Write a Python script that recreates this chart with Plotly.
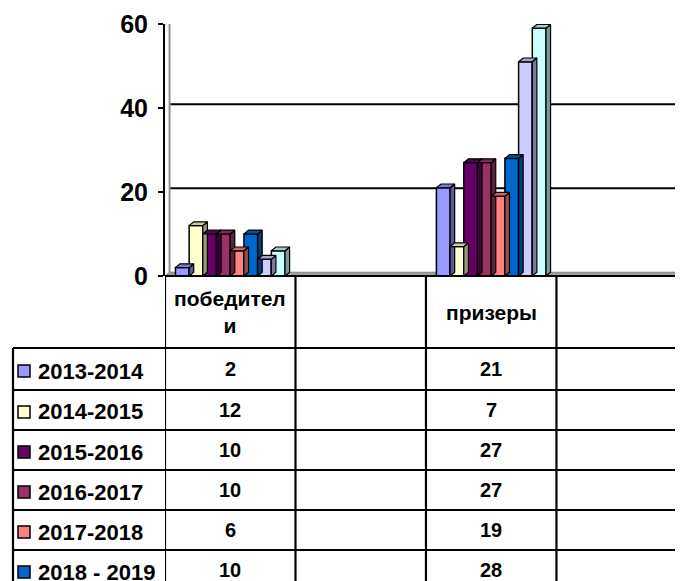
import plotly.graph_objects as go

# ---------------- data ----------------
categories = ["победител<br>и", "", "призеры", ""]
series_names = ["2013-2014", "2014-2015", "2015-2016", "2016-2017",
                "2017-2018", "2018 - 2019", "2019 - 2020", "2020 - 2021"]
winners = [2, 12, 10, 10, 6, 10, 4, 6]
prizers = [21, 7, 27, 27, 19, 28, 51, 59]
colors = ["#9999FF", "#FFFFCC", "#660066", "#993366",
          "#FF8080", "#0066CC", "#CCCCFF", "#CCFFFF"]
side_colors = ["#5A5A99", "#99997A", "#3D003D", "#5C1F3D",
               "#994D4D", "#003D7A", "#7A7A99", "#7A9999"]
top_colors = ["#7A7ACC", "#CCCCA3", "#520052", "#7A2952",
              "#CC6666", "#0052A3", "#A3A3CC", "#A3CCCC"]
y_ticks = [0, 20, 40, 60]

# page body has an 8px margin: compensate so the screen layout matches
OFF = 8
W, H = 683 - OFF, 581 - OFF
ML = 165 - OFF           # y axis at screen x=165
MT = 24 - OFF            # value 60 at screen y=24
BOTTOM = 276 - OFF       # value 0 at screen y=276
MB = H - BOTTOM
plot_h = BOTTOM - MT
x_range = [-0.5, 3.47]
y_range = [0, 60]
bargap = 0.16
n = len(series_names)
bw = (1 - bargap) / n
dx = 0.035                      # 3D depth in category units
dy = 0.9                        # 3D depth in value units

FONT = "Arial, Liberation Sans, sans-serif"

def pyp(p):
    """screen pixel y -> paper y"""
    return (BOTTOM - (p - OFF)) / plot_h

def pxp(p):
    """screen pixel x -> paper x"""
    return ((p - OFF) - ML) / (W - ML)

fig = go.Figure()

# back wall / floor decorations (drawn in axis units)
shapes = []
shapes.append(dict(type="path", xref="x", yref="y",
                   path=f"M {x_range[0]},0 L {x_range[1]},0 L {x_range[1]},{dy} L {x_range[0]+dx},{dy} Z",
                   fillcolor="#A0A0A0", line=dict(color="#808080", width=1), layer="below"))
for v in [20, 40]:
    shapes.append(dict(type="line", xref="x", yref="y", x0=x_range[0] + dx, x1=x_range[1],
                       y0=v + dy, y1=v + dy, line=dict(color="black", width=2), layer="below"))
shapes.append(dict(type="line", xref="x", yref="y", x0=x_range[0] + dx, x1=x_range[1],
                   y0=60 + dy, y1=60 + dy, line=dict(color="#909090", width=3), layer="below"))
shapes.append(dict(type="line", xref="x", yref="y", x0=x_range[0] + dx, x1=x_range[0] + dx,
                   y0=dy, y1=60 + dy, line=dict(color="#909090", width=2), layer="below"))
shapes.append(dict(type="line", xref="x", yref="y", x0=x_range[0], x1=x_range[0] + dx,
                   y0=60, y1=60 + dy, line=dict(color="#606060", width=1.5), layer="below"))

# bars with 3D faces
for i, name in enumerate(series_names):
    vals = [winners[i], 0, prizers[i], 0]
    xs = [k for k, v in enumerate(vals) if v > 0]
    ys = [v for v in vals if v > 0]
    offset = -0.5 + bargap / 2 + i * bw
    fig.add_trace(go.Bar(
        x=xs, y=ys, name=name, width=bw, offset=offset,
        marker=dict(color=colors[i], line=dict(color="black", width=1.5)),
        showlegend=False, hoverinfo="skip"))
    sx, sy, tx, ty = [], [], [], []
    for x, v in zip(xs, ys):
        x0 = x + offset
        x1 = x0 + bw
        sx += [x1, x1, x1 + dx, x1 + dx, x1, None]
        sy += [0, v, v + dy, dy, 0, None]
        tx += [x0, x1, x1 + dx, x0 + dx, x0, None]
        ty += [v, v, v + dy, v + dy, v, None]
    fig.add_trace(go.Scatter(x=sx, y=sy, mode="lines", fill="toself",
                             fillcolor=side_colors[i], line=dict(color="black", width=1.2),
                             showlegend=False, hoverinfo="skip"))
    fig.add_trace(go.Scatter(x=tx, y=ty, mode="lines", fill="toself",
                             fillcolor=top_colors[i], line=dict(color="black", width=1.2),
                             showlegend=False, hoverinfo="skip"))

# ---------------- data table ----------------
row_lines_px = [348, 390, 430, 470, 510, 550, 590, 630, 670]
header_top = 276
tbl_left_px = 13
bounds = [-0.5, 0.5, 1.5, 2.5, 3.5]
LW = 2.2
for b in bounds:
    shapes.append(dict(type="line", xref="x", yref="paper", x0=b, x1=b,
                       y0=pyp(header_top), y1=pyp(row_lines_px[-1]),
                       line=dict(color="black", width=LW)))
shapes.append(dict(type="line", xref="paper", yref="paper", x0=pxp(tbl_left_px), x1=pxp(tbl_left_px),
                   y0=pyp(row_lines_px[0]), y1=pyp(row_lines_px[-1]),
                   line=dict(color="black", width=LW)))
shapes.append(dict(type="line", xref="paper", yref="paper", x0=0, x1=1,
                   y0=pyp(header_top), y1=pyp(header_top),
                   line=dict(color="black", width=LW)))
for r in row_lines_px:
    shapes.append(dict(type="line", xref="paper", yref="paper", x0=pxp(tbl_left_px), x1=1,
                       y0=pyp(r), y1=pyp(r), line=dict(color="black", width=LW)))

annotations = []
for k, c in enumerate(categories):
    if c:
        annotations.append(dict(x=k, xref="x", y=pyp(312), yref="paper", text=f"<b>{c}</b>",
                                showarrow=False, font=dict(family=FONT, size=21, color="black"),
                                xanchor="center", yanchor="middle"))
for i, name in enumerate(series_names):
    top = row_lines_px[i]
    bot = row_lines_px[i + 1]
    cy = (top + bot) / 2 + 2
    shapes.append(dict(type="rect", xref="paper", yref="paper",
                       x0=pxp(18), x1=pxp(30), y0=pyp(cy - 6), y1=pyp(cy + 6),
                       fillcolor=colors[i], line=dict(color="black", width=1.5)))
    annotations.append(dict(x=pxp(36), xref="paper", y=pyp(cy), yref="paper",
                            text=f"<b>{name}</b>", showarrow=False,
                            font=dict(family=FONT, size=22, color="black"),
                            xanchor="left", yanchor="middle"))
    row_vals = [winners[i], None, prizers[i], None]
    for k, v in enumerate(row_vals):
        if v is not None:
            annotations.append(dict(x=k, xref="x", y=pyp(cy - 2), yref="paper",
                                    text=f"<b>{v}</b>", showarrow=False,
                                    font=dict(family=FONT, size=20, color="black"),
                                    xanchor="center", yanchor="middle"))

fig.update_layout(
    width=W, height=H,
    margin=dict(l=ML, r=0, t=MT, b=MB, pad=0),
    paper_bgcolor="white", plot_bgcolor="white",
    barmode="group", bargap=bargap, bargroupgap=0,
    shapes=shapes, annotations=annotations,
    xaxis=dict(range=x_range, showgrid=False, zeroline=False, showticklabels=False,
               showline=False, ticks="", fixedrange=True),
    yaxis=dict(range=y_range, tickvals=y_ticks, ticktext=[f"<b>{t}</b>" for t in y_ticks],
               showgrid=False, zeroline=False, showline=True, linecolor="black", linewidth=2,
               ticks="outside", ticklen=5, tickwidth=2, tickcolor="black",
               ticklabelstandoff=5,
               tickfont=dict(family=FONT, size=25, color="black"), fixedrange=True),
    showlegend=False,
)

fig.write_html("out.html")
